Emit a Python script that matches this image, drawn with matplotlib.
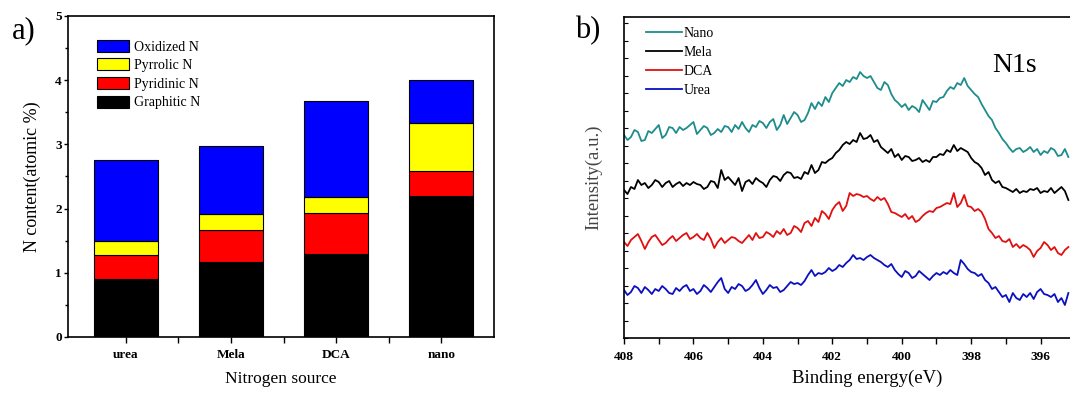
import numpy as np
import matplotlib
matplotlib.use('Agg')
import matplotlib.pyplot as plt
from matplotlib.ticker import MultipleLocator

plt.rcParams['font.family'] = ['Liberation Serif', 'DejaVu Serif']

# ---- panel a data ----
sources = ['urea', 'Mela', 'DCA', 'nano']
graphitic = [0.91, 1.17, 1.29, 2.20]
pyridinic = [0.36, 0.50, 0.64, 0.38]
pyrrolic = [0.23, 0.24, 0.25, 0.76]
oxidized = [1.25, 1.07, 1.50, 0.67]

# ---- panel b data (N1s spectra, 0.1 eV steps from 408.0 to 395.2 eV) ----
energy = np.round(np.linspace(408.0, 395.2, 129), 1)
energy_ticks = [408, 406, 404, 402, 400, 398, 396]
nano = [203, 198, 201, 208, 206, 197, 198, 207, 205, 209, 213, 200, 203, 211, 210, 205,
        211, 208, 210, 213, 216, 204, 208, 212, 210, 203, 205, 209, 206, 212, 211, 206,
        213, 209, 216, 210, 206, 213, 211, 217, 215, 210, 216, 219, 208, 213, 223, 214,
        220, 226, 223, 216, 218, 225, 235, 229, 236, 232, 241, 236, 245, 250, 255, 252,
        258, 256, 261, 259, 266, 262, 260, 262, 256, 250, 248, 256, 253, 244, 238, 235,
        231, 234, 228, 232, 230, 226, 238, 233, 228, 237, 236, 240, 241, 247, 251, 249,
        255, 253, 260, 252, 248, 244, 241, 234, 228, 222, 218, 210, 205, 199, 195, 190,
        186, 189, 190, 186, 188, 191, 186, 189, 183, 187, 185, 190, 188, 182, 183, 189, 181]
mela = [148, 144, 151, 149, 158, 153, 155, 150, 153, 158, 156, 151, 155, 157, 151, 154,
        156, 152, 155, 153, 156, 154, 153, 149, 151, 157, 156, 150, 168, 158, 161, 157,
        153, 160, 147, 156, 158, 154, 160, 157, 155, 151, 158, 162, 161, 157, 163, 166,
        165, 160, 161, 159, 166, 164, 173, 165, 168, 176, 175, 178, 180, 185, 188, 193,
        196, 194, 198, 196, 205, 199, 200, 203, 196, 198, 191, 188, 185, 189, 181, 184,
        178, 182, 181, 177, 178, 180, 176, 178, 176, 181, 181, 184, 183, 188, 186, 193,
        187, 190, 188, 186, 180, 176, 174, 170, 163, 166, 158, 155, 157, 151, 150, 148,
        146, 149, 145, 147, 146, 149, 148, 150, 145, 147, 146, 150, 145, 148, 151, 147, 138]
dca = [96, 92, 98, 101, 104, 97, 89, 96, 101, 103, 98, 93, 95, 99, 102, 97,
       100, 103, 105, 99, 101, 104, 100, 98, 105, 99, 90, 96, 100, 95, 98, 101,
       100, 97, 95, 99, 103, 98, 105, 100, 101, 106, 104, 101, 107, 104, 109, 103,
       105, 112, 110, 106, 115, 117, 112, 120, 116, 127, 124, 119, 128, 133, 136, 127,
       132, 145, 142, 144, 143, 141, 142, 139, 137, 141, 138, 140, 134, 126, 125, 123,
       121, 124, 119, 122, 116, 118, 122, 125, 127, 126, 130, 131, 133, 135, 134, 145,
       131, 135, 143, 132, 131, 127, 129, 126, 119, 109, 105, 100, 102, 97, 96, 99,
       91, 94, 90, 93, 91, 88, 81, 87, 90, 96, 93, 88, 91, 85, 83, 88, 91]
urea = [48, 43, 46, 52, 50, 45, 51, 48, 44, 49, 47, 52, 49, 45, 44, 50,
        47, 51, 53, 47, 49, 44, 47, 53, 50, 46, 51, 56, 60, 49, 45, 51,
        49, 54, 52, 47, 49, 53, 58, 50, 44, 48, 53, 50, 51, 46, 48, 52,
        56, 54, 55, 53, 57, 63, 68, 62, 65, 64, 66, 70, 67, 69, 73, 71,
        75, 78, 83, 79, 80, 78, 81, 83, 80, 78, 76, 73, 71, 74, 68, 64,
        61, 67, 65, 60, 62, 67, 64, 61, 58, 62, 65, 63, 66, 64, 68, 65,
        63, 78, 74, 69, 66, 65, 62, 64, 58, 55, 49, 51, 46, 41, 43, 36,
        45, 40, 38, 44, 41, 45, 39, 46, 49, 44, 43, 41, 44, 36, 40, 33, 45]

fig = plt.figure(figsize=(10.7, 3.94), dpi=100)

# ================= panel a =================
ax1 = fig.add_axes([0.0636, 0.1447, 0.398, 0.8147])
x = np.arange(1, len(sources) + 1)
w = 0.61
b1 = np.array(graphitic)
b2 = b1 + np.array(pyridinic)
b3 = b2 + np.array(pyrrolic)
h_g = ax1.bar(x, graphitic, w, color='black', edgecolor='black', lw=0.8, label='Graphitic N')
h_p = ax1.bar(x, pyridinic, w, bottom=b1, color='#ff0000', edgecolor='black', lw=0.8, label='Pyridinic N')
h_r = ax1.bar(x, pyrrolic, w, bottom=b2, color='#ffff00', edgecolor='black', lw=0.8, label='Pyrrolic N')
h_o = ax1.bar(x, oxidized, w, bottom=b3, color='#0000ff', edgecolor='black', lw=0.8, label='Oxidized N')

ax1.set_xlim(0.45, 4.5)
ax1.set_ylim(0, 5)
ax1.set_xticks(x, sources)
ax1.set_xticks([1.5, 2.5, 3.5], minor=True)
ax1.tick_params(axis='x', which='both', direction='out', length=4, width=1, pad=4.5)
ax1.yaxis.set_major_locator(MultipleLocator(1))
ax1.yaxis.set_minor_locator(MultipleLocator(0.5))
ax1.tick_params(axis='y', which='major', direction='out', length=3, width=1, pad=1.5)
ax1.tick_params(axis='y', which='minor', direction='out', length=2, width=1)
for lab in ax1.get_xticklabels() + ax1.get_yticklabels():
    lab.set_fontweight('bold')
    lab.set_fontsize(9.5)
for s in ax1.spines.values():
    s.set_linewidth(1.2)
ax1.set_ylabel('N content(atomic %)', fontsize=13, labelpad=10)
ax1.set_xlabel('Nitrogen source', fontsize=12.5, labelpad=7)
ax1.legend(handles=[h_o, h_r, h_p, h_g], loc='upper left', bbox_to_anchor=(0.069, 0.926),
           frameon=False, fontsize=10, handlelength=2.3, handleheight=0.95,
           labelspacing=0.35, handletextpad=0.3, borderaxespad=0, borderpad=0)
fig.text(0.011, 0.96, 'a)', fontsize=22, va='top', ha='left')

# ================= panel b =================
ax2 = fig.add_axes([0.5832, 0.1421, 0.4542, 0.8147])
ax2.plot(energy, nano, color='#1f8c8c', lw=1.3, label='Nano')
ax2.plot(energy, mela, color='black', lw=1.3, label='Mela')
ax2.plot(energy, dca, color='#e01010', lw=1.3, label='DCA')
ax2.plot(energy, urea, color='#0a10c0', lw=1.3, label='Urea')
ax2.set_xlim(408, 394)
ax2.set_ylim(0, 321)
ax2.set_xticks(energy_ticks)
ax2.set_xticks([407, 405, 403, 401, 399, 397, 395], minor=True)
ax2.tick_params(axis='x', which='both', direction='out', length=4, width=1, pad=5.5)
ax2.yaxis.set_major_locator(MultipleLocator(17.5))
ax2.set_yticklabels([])
ax2.tick_params(axis='y', which='major', direction='in', length=3, width=0.8)
for lab in ax2.get_xticklabels():
    lab.set_fontweight('bold')
    lab.set_fontsize(9.5)
for s in ax2.spines.values():
    s.set_linewidth(1.2)
ax2.set_xlabel('Binding energy(eV)', fontsize=13.5, labelpad=5)
ax2.set_ylabel('Intensity(a.u.)', fontsize=13.5, color='#444444', labelpad=12)
ax2.legend(loc='upper left', bbox_to_anchor=(0.046, 0.968), frameon=False, fontsize=10,
           handlelength=2.6, labelspacing=0.42, handletextpad=0.1,
           borderaxespad=0, borderpad=0)
ax2.text(0.757, 0.83, 'N1s', transform=ax2.transAxes, fontsize=20)
fig.text(0.537, 0.96, 'b)', fontsize=22, va='top', ha='left')

fig.savefig('out.png', dpi=100)
